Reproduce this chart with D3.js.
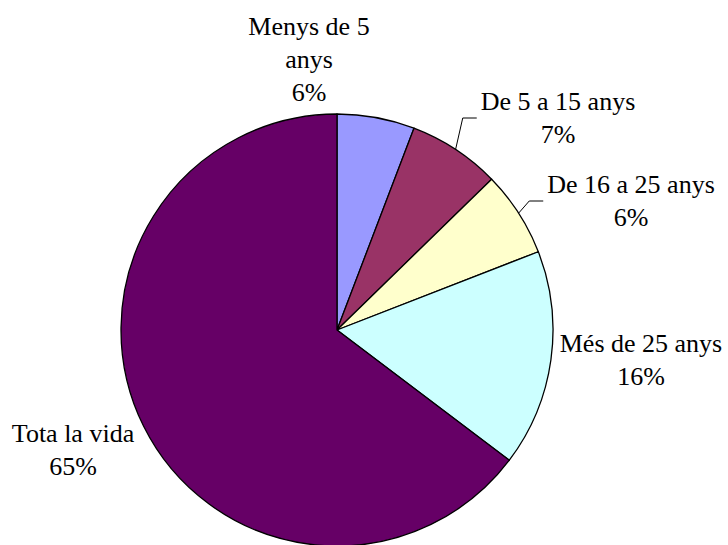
<!DOCTYPE html>
<meta charset="utf-8">
<body style="margin:0;background:#fff">
<script src="https://cdn.jsdelivr.net/npm/d3@7"></script>
<script>

    // data
    const categories = ["Menys de 5 anys", "De 5 a 15 anys", "De 16 a 25 anys", "Més de 25 anys", "Tota la vida"];
    const values = [5.8, 6.9, 6.4, 16.2, 64.7];
    const colors = ["#9999ff", "#993366", "#ffffcc", "#ccffff", "#660066"];

    // label layout (center x, first baseline, wrap width, leader line?)
    const labelX = [309, 558, 631, 641, 73];
    const labelY = [35, 110, 193, 352, 442];
    const labelWrap = [140, 400, 400, 400, 400];
    const hasLeader = [false, true, true, false, false];

    const width = 728, height = 545;
    const cx = 337, cy = 330, radius = 216;
    const lineHeight = 33;
    const font = "'Liberation Serif'";
    const fontSize = 26;

    const svg = d3.select("body").append("svg")
        .attr("width", width)
        .attr("height", height)
        .style("display", "block");

    const pie = d3.pie().sort(null).value(d => d);
    const arcs = pie(values);

    const arc = d3.arc().innerRadius(0).outerRadius(radius);

    const g = svg.append("g")
        .attr("transform", "translate(" + cx + "," + cy + ")");

    g.selectAll("path.slice")
        .data(arcs)
        .enter().append("path")
        .attr("class", "slice")
        .attr("d", arc)
        .style("fill", (d, i) => colors[i])
        .style("stroke", "#000")
        .style("stroke-width", 1.3)
        .style("stroke-linejoin", "round");

    // labels
    const labels = svg.append("g").attr("class", "labels");

    arcs.forEach((d, i) => {
        // wrap the category name if it doesn't fit
        const words = categories[i].split(" ");
        const lines = [];
        let cur = "";
        const probe = labels.append("text")
            .attr("font-family", font)
            .attr("font-size", fontSize)
            .style("visibility", "hidden");
        words.forEach(w => {
            const test = cur ? cur + " " + w : w;
            probe.text(test);
            if (probe.node().getComputedTextLength() > labelWrap[i] && cur) {
                lines.push(cur);
                cur = w;
            } else {
                cur = test;
            }
        });
        lines.push(cur);
        probe.remove();
        lines.push(Math.round(d.value) + "%");

        const t = labels.append("text")
            .attr("font-family", font)
            .attr("font-size", fontSize)
            .attr("text-anchor", "middle")
            .attr("fill", "#000");
        lines.forEach((ln, j) => {
            t.append("tspan")
                .attr("x", labelX[i])
                .attr("y", labelY[i] + j * lineHeight)
                .text(ln);
        });

        if (hasLeader[i]) {
            const firstLen = t.select("tspan").node().getComputedTextLength();
            const left = labelX[i] - firstLen / 2;
            const mid = (d.startAngle + d.endAngle) / 2;
            const p0 = [cx + radius * Math.sin(mid), cy - radius * Math.cos(mid)];
            const ly = labelY[i] + 8;
            svg.append("path")
                .attr("d", d3.line()([p0, [left - 18, ly], [left - 4, ly]]))
                .style("fill", "none")
                .style("stroke", "#000")
                .style("stroke-width", 1);
        }
    });

</script>
</body>
